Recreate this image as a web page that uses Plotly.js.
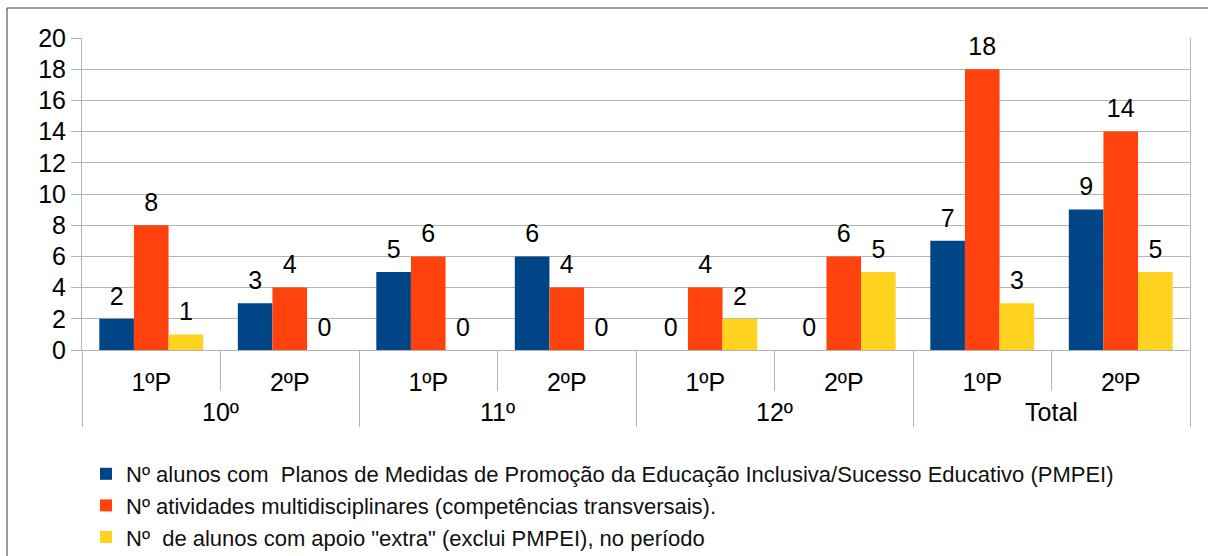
<!DOCTYPE html>
<html>
<head>
<meta charset="utf-8">
<script src="https://cdn.plot.ly/plotly-3.0.1.min.js"></script>
<style>html,body{margin:0;padding:0;background:#fff;}#chart{width:1208px;height:556px;}</style>
</head>
<body>
<div id="chart"></div>
<script>
// ---- data ----
const groups  = ['10º','10º','11º','11º','12º','12º','Total','Total'];
const periods = ['1ºP','2ºP','1ºP','2ºP','1ºP','2ºP','1ºP','2ºP'];
const seriesNames = [
  'Nº alunos com \u00a0Planos de Medidas de Promoção da Educação Inclusiva/Sucesso Educativo (PMPEI)',
  'Nº atividades multidisciplinares (competências transversais).',
  'Nº \u00a0de alunos com apoio "extra" (exclui PMPEI), no período'
];
const pmpei      = [2, 3, 5, 6, 0, 0, 7, 9];
const atividades = [8, 4, 6, 4, 4, 6, 18, 14];
const apoio      = [1, 0, 0, 0, 2, 5, 3, 5];
const yTicks = [0, 2, 4, 6, 8, 10, 12, 14, 16, 18, 20];

const seriesValues = [pmpei, atividades, apoio];
const colors = ['#004586', '#ff420e', '#ffd320'];
const FONT = 'Liberation Sans, Arial, sans-serif';
const GRID = '#b3b3b3';

// inner-level labels padded with (invisible) taller spacers so the outer level sits lower
const SPACER = '<span style="font-size:34px">\u00a0</span>';
const periodLabels = periods.map(p => SPACER + p + SPACER);
const xCats = [groups, periodLabels];

const traces = [];
seriesValues.forEach((vals, i) => {
  traces.push({
    type: 'bar',
    x: xCats,
    y: vals,
    name: seriesNames[i],
    marker: {color: colors[i]},
    hoverinfo: 'skip',
    legendgroup: 'g' + i
  });
});
seriesValues.forEach((vals, i) => {
  traces.push({
    type: 'scatter',
    mode: 'markers+text',
    x: xCats,
    y: vals,
    text: vals.map(String),
    textposition: 'top center',
    textfont: {family: FONT, size: 25, color: '#000'},
    marker: {size: 11, opacity: 0, color: colors[i]},
    showlegend: false,
    hoverinfo: 'skip',
    cliponaxis: false
  });
});

const layout = {
  width: 1208, height: 556,
  margin: {l: 82, r: 18, t: 38, b: 206, autoexpand: false},
  paper_bgcolor: '#fff', plot_bgcolor: '#fff',
  font: {family: FONT, color: '#000'},
  barmode: 'group', bargap: 0.25, bargroupgap: 0,
  scattermode: 'group', scattergap: 0.25,
  showlegend: true,
  legend: {
    orientation: 'v', xref: 'container', yref: 'container',
    x: 86/1208, y: 1 - 453/556, xanchor: 'left', yanchor: 'top',
    font: {family: FONT, size: 22, color: '#111'},
    tracegroupgap: 0, bgcolor: 'rgba(0,0,0,0)'
  },
  xaxis: {
    type: 'multicategory', tickangle: 0,
    showline: true, linecolor: GRID, linewidth: 1,
    ticks: 'outside', tickson: 'boundaries', ticklen: 40, tickcolor: GRID, tickwidth: 1,
    ticklabelstandoff: 10,
    showdividers: true, dividercolor: GRID, dividerwidth: 1,
    tickfont: {family: FONT, size: 25, color: '#000'},
    showgrid: false, zeroline: false, fixedrange: true
  },
  yaxis: {
    range: [0, 20], tickvals: yTicks, ticktext: yTicks.map(String),
    showgrid: true, gridcolor: GRID, gridwidth: 1,
    showline: true, linecolor: GRID, mirror: true,
    ticks: 'outside', ticklen: 10, tickcolor: GRID,
    zeroline: false,
    tickfont: {family: FONT, size: 25, color: '#000'},
    fixedrange: true
  },
  shapes: [{
    type: 'rect', xref: 'paper', yref: 'paper',
    x0: (7 - 82) / 1108, x1: 1.2, y0: -1, y1: 1 + 30 / 312,
    line: {color: '#3c3c3c', width: 1}
  }]
};

Plotly.newPlot('chart', traces, layout, {displayModeBar: false, staticPlot: true});
</script>
</body>
</html>
